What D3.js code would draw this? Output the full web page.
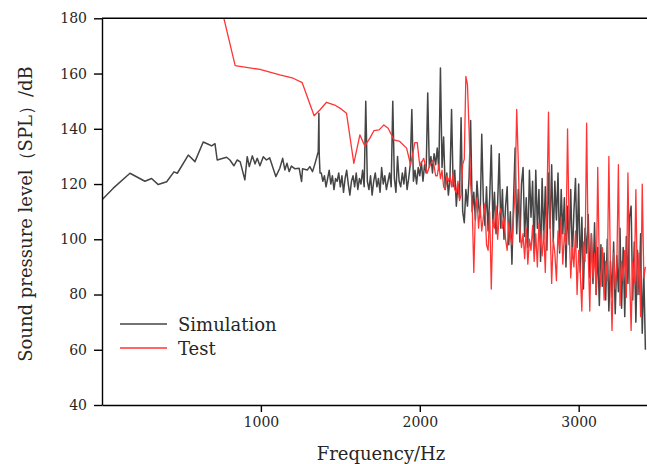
<!DOCTYPE html>
<html>
<head>
<meta charset="utf-8">
<script src="https://d3js.org/d3.v7.min.js"></script>
<style>
  body { margin: 0; background: #fff; }
  svg text { font-family: "DejaVu Serif", "Liberation Serif", serif; fill: #262626; }
  .domain, .tick line { stroke: #000; stroke-width: 1.4; }
</style>
</head>
<body>
<div id="chart"></div>
<script>
// simulation spectrum: sparse part below 1380 Hz, then a 10 Hz grid
var simLow = [[0,114.3],[71,118.5],[176,123.9],[270,121.0],[312,122.0],[354,119.8],[407,120.8],[453,124.4],[474,123.9],
  [543,130.5],[585,128.1],[637,135.2],[669,134.4],[690,133.8],[711,134.6],[725,128.7],[784,129.7],[805,128.7],[830,126.6],
  [851,128.7],[870,128.0],[899,121.5],[914,129.9],[927,126.3],[946,130.2],[963,127.3],[977,129.3],[994,126.6],[1015,129.9],
  [1035,128.7],[1055,129.5],[1094,122.7],[1119,125.7],[1137,129.3],[1151,125.1],[1164,127.5],[1178,124.5],[1192,126.5],
  [1215,125.5],[1241,125.7],[1256,120.9],[1262,125.5],[1292,125.1],[1308,126.3],[1325,124.5],[1340,127.3],[1361,131.7],
  [1365,145.6],[1367,131.0],[1372,124.0]];
var simStart = 1380, simStep = 10;
var simDense = [
  124,121,123,119,122,125,120,123,118,122,
  121,124,119,123,117,122,125,120,116,121,
  123,119,124,118,122,120,125,119,150,121,
  118,123,116,121,124,119,122,117,126,120,
  123,118,121,124,119,150,122,117,130,121,
  119,124,120,126,118,122,127,147,121,125,
  120,126,123,128,121,127,124,153,126,130,
  124,131,127,133,125,162,126,137,118,124,
  116,122,147,119,125,112,120,115,144,110,
  106,118,112,122,143,110,117,107,121,112,
  108,138,114,105,119,103,115,134,106,117,
  102,113,131,104,118,100,112,119,98,110,
  91,114,133,102,118,99,120,126,101,115,
  97,125,108,121,95,125,104,118,92,122,
  100,119,96,124,104,127,99,121,107,124,
  95,118,102,115,90,112,98,118,93,110,
  122,97,120,88,108,82,104,95,109,86,
  102,84,106,80,97,76,98,83,95,78,
  100,74,92,79,99,73,94,81,104,75,
  97,72,101,84,108,112,78,99,70,96,
  80,102,66,88,60];

// test spectrum: sparse part below 2110 Hz, then a 10 Hz grid
var testLow = [[740,186.5],[838,162.9],[994,161.5],[1119,159.5],[1203,158.3],[1260,156.7],[1335,144.7],[1371,146.8],
  [1413,149.6],[1465,148.6],[1507,147.1],[1539,145.6],[1585,127.5],[1623,137.8],[1654,133.8],[1686,136.6],[1711,139.3],
  [1744,139.6],[1774,141.4],[1801,140.2],[1837,136.0],[1874,135.4],[1917,133.0],[1942,126.9],[1969,135.0],[1984,135.0],
  [2000,126.6],[2025,129.3],[2046,123.9],[2065,127.0],[2084,128.7],[2100,123.0]];
var testStart = 2110, testStep = 10;
var testDense = [
  123,127,122,125,119,118,123,121,123,119,
  124,118,117,121,114,116,127,129,159,156,
  140,120,112,88,110,115,104,112,103,108,
  113,98,96,110,82,107,104,112,100,109,
  111,104,108,100,96,106,101,98,108,118,
  147,128,104,97,102,93,104,91,100,96,
  105,92,102,90,106,99,94,103,88,112,
  146,105,84,100,95,85,103,96,108,91,
  102,98,140,104,86,97,90,103,80,96,
  88,74,99,92,142,95,74,102,86,95,
  80,126,90,83,97,78,92,85,130,88,
  67,95,82,90,127,76,92,85,96,79,
  124,88,67,92,84,118,80,95,72,120,
  86,90];

var xTicks = [1000, 2000, 3000];
var yTicks = [40, 60, 80, 100, 120, 140, 160, 180];
var series = [
  {name: "Simulation", colour: "#454545", width: 1.5},
  {name: "Test", colour: "#ff3434", width: 1.3}
];

function joinSeries(low, start, step, dense) {
  return low.concat(dense.map(function (v, i) { return [start + i * step, v]; }));
}

var width = 647, height = 464;
var x = d3.scaleLinear().domain([0, 3430]).range([102, 647]);
var y = d3.scaleLinear().domain([40, 180]).range([405, 18.3]);

var svg = d3.select("#chart").append("svg")
  .attr("width", width)
  .attr("height", height);

svg.append("defs").append("clipPath")
  .attr("id", "plotClip")
  .append("rect")
  .attr("x", x.range()[0])
  .attr("y", y.range()[1])
  .attr("width", x.range()[1] - x.range()[0])
  .attr("height", y.range()[0] - y.range()[1]);

var line = d3.line()
  .x(function (d) { return x(d[0]); })
  .y(function (d) { return y(d[1]); });

var plot = svg.append("g").attr("clip-path", "url(#plotClip)");
var lines = [joinSeries(simLow, simStart, simStep, simDense), joinSeries(testLow, testStart, testStep, testDense)];
lines.forEach(function (data, i) {
  plot.append("path")
    .datum(data)
    .attr("fill", "none")
    .attr("stroke", series[i].colour)
    .attr("stroke-width", series[i].width)
    .attr("stroke-linejoin", "round")
    .attr("d", line);
});

// axes
var xAxis = svg.append("g")
  .attr("transform", "translate(0," + y(40) + ")")
  .call(d3.axisBottom(x).tickValues(xTicks).tickFormat(d3.format("d"))
    .tickSize(7).tickPadding(5).tickSizeOuter(0));
xAxis.selectAll("text").style("font-size", "14px").attr("fill", "#262626");

var yAxis = svg.append("g")
  .attr("transform", "translate(" + x(0) + ",0)")
  .call(d3.axisLeft(y).tickValues(yTicks).tickSize(8).tickPadding(7).tickSizeOuter(0));
yAxis.selectAll("text").style("font-size", "14px").attr("fill", "#262626");

// top frame line
svg.append("line")
  .attr("x1", x(0)).attr("x2", x(3430))
  .attr("y1", y(180)).attr("y2", y(180))
  .attr("stroke", "#000")
  .attr("stroke-width", 1.4);

svg.append("text")
  .attr("x", 381)
  .attr("y", 460)
  .attr("text-anchor", "middle")
  .style("font-size", "18px")
  .text("Frequency/Hz");

svg.append("text")
  .attr("transform", "translate(32,214) rotate(-90)")
  .attr("text-anchor", "middle")
  .style("font-size", "18px")
  .text("Sound pressure level（SPL）/dB");

// legend
var legend = svg.append("g")
  .selectAll("g")
  .data(series)
  .enter().append("g")
  .attr("transform", function (d, i) { return "translate(120," + (324 + i * 24) + ")"; });
legend.append("line")
  .attr("x1", 0).attr("x2", 47)
  .attr("stroke", function (d) { return d.colour; })
  .attr("stroke-width", 1.3);
legend.append("text")
  .attr("x", 58)
  .attr("y", 7)
  .style("font-size", "18px")
  .text(function (d) { return d.name; });
</script>
</body>
</html>
